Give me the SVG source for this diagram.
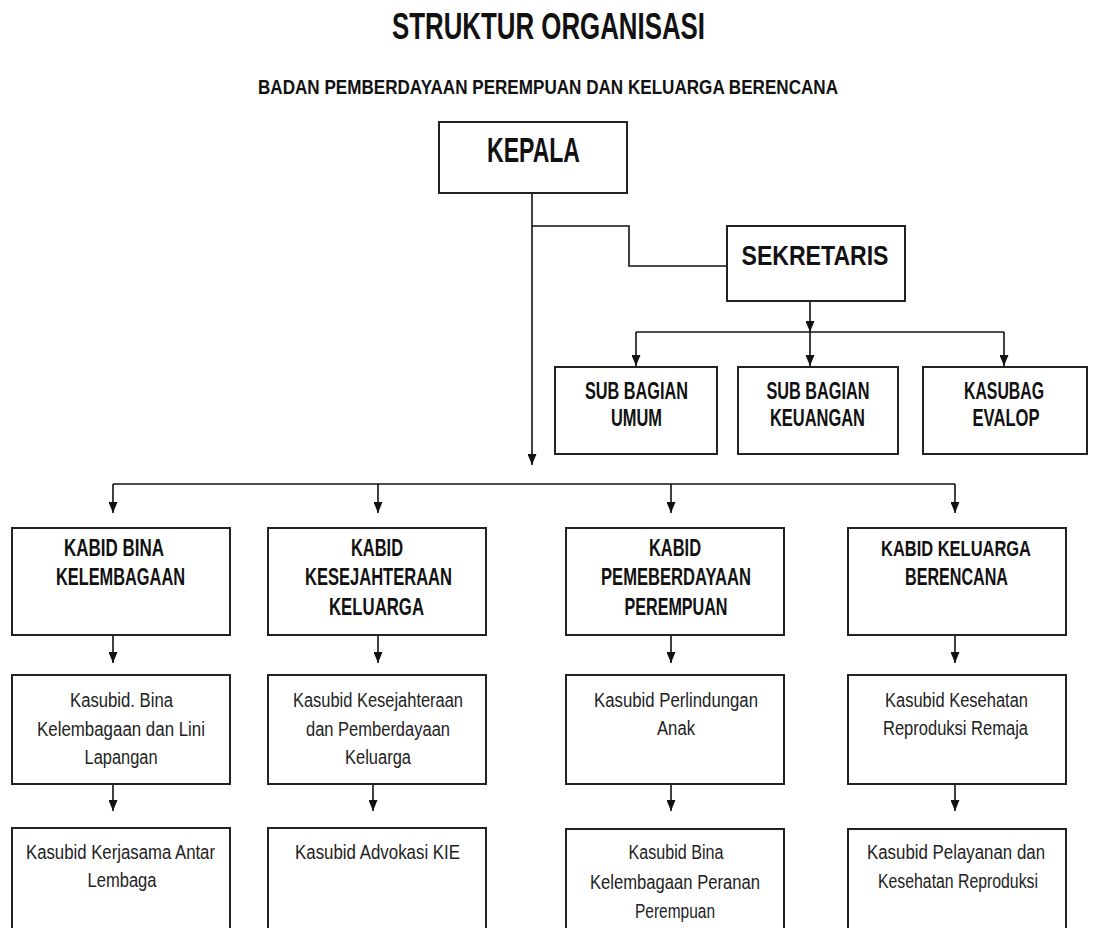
<svg xmlns="http://www.w3.org/2000/svg" width="1095" height="928" viewBox="0 0 1095 928">
<style>
.box{fill:#fff;stroke:#222;stroke-width:2}
.ln{fill:none;stroke:#111;stroke-width:1.6}
.t{font-family:"Liberation Sans",Arial,sans-serif;text-anchor:middle;fill:#111}
.b{font-weight:bold}
.h{font-size:24px}
.r{font-size:20px;fill:#222}
</style>
<defs>
<marker id="ah" markerUnits="userSpaceOnUse" markerWidth="11" markerHeight="9" refX="11" refY="4.5" orient="auto">
<path d="M0,0 L11,4.5 L0,9 z" fill="#111"/>
</marker>
</defs>
<rect width="1095" height="928" fill="#fff"/>
<g id="title">
<text class="t b" x="548.5" y="38.5" font-size="37" textLength="313" lengthAdjust="spacingAndGlyphs">STRUKTUR ORGANISASI</text>
<text class="t b" x="548" y="94" font-size="19.5" textLength="580" lengthAdjust="spacingAndGlyphs">BADAN PEMBERDAYAAN PEREMPUAN DAN KELUARGA BERENCANA</text>
</g>
<g id="connectors">
<path class="ln" d="M532,193 V465" marker-end="url(#ah)"/>
<path class="ln" d="M532,226 H629 V266 H727"/>
<path class="ln" d="M810,301 V332" marker-end="url(#ah)"/>
<path class="ln" d="M636,332 H1004"/>
<path class="ln" d="M636,332 V366" marker-end="url(#ah)"/>
<path class="ln" d="M810,332 V366" marker-end="url(#ah)"/>
<path class="ln" d="M1004,332 V366" marker-end="url(#ah)"/>
<path class="ln" d="M113,484 H955"/>
<path class="ln" d="M113,484 V513" marker-end="url(#ah)"/>
<path class="ln" d="M378,484 V513" marker-end="url(#ah)"/>
<path class="ln" d="M671,484 V513" marker-end="url(#ah)"/>
<path class="ln" d="M955,484 V513" marker-end="url(#ah)"/>
<path class="ln" d="M113,635 V663" marker-end="url(#ah)"/>
<path class="ln" d="M378,635 V663" marker-end="url(#ah)"/>
<path class="ln" d="M671,635 V663" marker-end="url(#ah)"/>
<path class="ln" d="M955,635 V663" marker-end="url(#ah)"/>
<path class="ln" d="M113,784 V811" marker-end="url(#ah)"/>
<path class="ln" d="M373,784 V811" marker-end="url(#ah)"/>
<path class="ln" d="M671,784 V811" marker-end="url(#ah)"/>
<path class="ln" d="M955,784 V811" marker-end="url(#ah)"/>
</g>
<g id="kepala">
<rect class="box" x="439" y="122" width="188" height="71"/>
<text class="t b" x="533.5" y="162" font-size="35" textLength="93" lengthAdjust="spacingAndGlyphs">KEPALA</text>
</g>
<g id="sekretaris">
<rect class="box" x="727" y="226" width="178" height="75"/>
<text class="t b" x="815" y="265" font-size="28" textLength="147" lengthAdjust="spacingAndGlyphs">SEKRETARIS</text>
</g>
<g id="sub-umum">
<rect class="box" x="555" y="367" width="162" height="87"/>
<text class="t b h" x="636.5" y="399" textLength="103" lengthAdjust="spacingAndGlyphs">SUB BAGIAN</text>
<text class="t b h" x="636.5" y="426" textLength="51" lengthAdjust="spacingAndGlyphs">UMUM</text>
</g>
<g id="sub-keuangan">
<rect class="box" x="738" y="367" width="160" height="87"/>
<text class="t b h" x="818" y="399" textLength="103" lengthAdjust="spacingAndGlyphs">SUB BAGIAN</text>
<text class="t b h" x="817.5" y="426" textLength="95" lengthAdjust="spacingAndGlyphs">KEUANGAN</text>
</g>
<g id="kasubag-evalop">
<rect class="box" x="923" y="367" width="164" height="87"/>
<text class="t b h" x="1004" y="399" textLength="80" lengthAdjust="spacingAndGlyphs">KASUBAG</text>
<text class="t b h" x="1006" y="426" textLength="67" lengthAdjust="spacingAndGlyphs">EVALOP</text>
</g>
<g id="kabid-bina">
<rect class="box" x="12" y="528" width="218" height="107"/>
<text class="t b h" x="114" y="556" textLength="100" lengthAdjust="spacingAndGlyphs">KABID BINA</text>
<text class="t b h" x="120.5" y="585" textLength="129" lengthAdjust="spacingAndGlyphs">KELEMBAGAAN</text>
</g>
<g id="kabid-kesejahteraan">
<rect class="box" x="268" y="528" width="218" height="107"/>
<text class="t b h" x="377" y="556" textLength="52" lengthAdjust="spacingAndGlyphs">KABID</text>
<text class="t b h" x="378.5" y="585" textLength="147" lengthAdjust="spacingAndGlyphs">KESEJAHTERAAN</text>
<text class="t b h" x="376.5" y="615" textLength="95" lengthAdjust="spacingAndGlyphs">KELUARGA</text>
</g>
<g id="kabid-pemberdayaan">
<rect class="box" x="566" y="528" width="218" height="107"/>
<text class="t b h" x="675" y="556" textLength="52" lengthAdjust="spacingAndGlyphs">KABID</text>
<text class="t b h" x="676" y="585" textLength="150" lengthAdjust="spacingAndGlyphs">PEMEBERDAYAAN</text>
<text class="t b h" x="676" y="615" textLength="103" lengthAdjust="spacingAndGlyphs">PEREMPUAN</text>
</g>
<g id="kabid-kb">
<rect class="box" x="848" y="528" width="218" height="107"/>
<text class="t b" x="956" y="556" font-size="22.5" textLength="150" lengthAdjust="spacingAndGlyphs">KABID KELUARGA</text>
<text class="t b h" x="956.5" y="585" textLength="103" lengthAdjust="spacingAndGlyphs">BERENCANA</text>
</g>
<g id="kasubid-bina-lini">
<rect class="box" x="12" y="675" width="218" height="109"/>
<text class="t r" x="121.5" y="707" textLength="103" lengthAdjust="spacingAndGlyphs">Kasubid. Bina</text>
<text class="t r" x="121" y="736" textLength="168" lengthAdjust="spacingAndGlyphs">Kelembagaan  dan Lini</text>
<text class="t r" x="121" y="764" textLength="73" lengthAdjust="spacingAndGlyphs">Lapangan</text>
</g>
<g id="kasubid-kesejahteraan">
<rect class="box" x="268" y="675" width="218" height="109"/>
<text class="t r" x="378" y="707" textLength="170" lengthAdjust="spacingAndGlyphs">Kasubid Kesejahteraan</text>
<text class="t r" x="378" y="736" textLength="144" lengthAdjust="spacingAndGlyphs">dan Pemberdayaan</text>
<text class="t r" x="378" y="764" textLength="66" lengthAdjust="spacingAndGlyphs">Keluarga</text>
</g>
<g id="kasubid-perlindungan">
<rect class="box" x="566" y="675" width="218" height="109"/>
<text class="t r" x="676" y="707" textLength="164" lengthAdjust="spacingAndGlyphs">Kasubid Perlindungan</text>
<text class="t r" x="676" y="735" textLength="38" lengthAdjust="spacingAndGlyphs">Anak</text>
</g>
<g id="kasubid-krr">
<rect class="box" x="848" y="675" width="218" height="109"/>
<text class="t r" x="956.5" y="707" textLength="143" lengthAdjust="spacingAndGlyphs">Kasubid Kesehatan</text>
<text class="t r" x="955.5" y="735" textLength="145" lengthAdjust="spacingAndGlyphs">Reproduksi Remaja</text>
</g>
<g id="kasubid-kerjasama">
<rect class="box" x="12" y="828" width="218" height="120"/>
<text class="t r" x="120.5" y="859" textLength="189" lengthAdjust="spacingAndGlyphs">Kasubid Kerjasama  Antar</text>
<text class="t r" x="122" y="887" textLength="69" lengthAdjust="spacingAndGlyphs">Lembaga</text>
</g>
<g id="kasubid-advokasi">
<rect class="box" x="268" y="828" width="218" height="120"/>
<text class="t r" x="377.5" y="859" textLength="165" lengthAdjust="spacingAndGlyphs">Kasubid Advokasi KIE</text>
</g>
<g id="kasubid-peranan">
<rect class="box" x="566" y="829" width="218" height="120"/>
<text class="t r" x="676" y="859" textLength="95" lengthAdjust="spacingAndGlyphs">Kasubid Bina</text>
<text class="t r" x="675" y="889" textLength="170" lengthAdjust="spacingAndGlyphs">Kelembagaan  Peranan</text>
<text class="t r" x="675" y="918" textLength="80" lengthAdjust="spacingAndGlyphs">Perempuan</text>
</g>
<g id="kasubid-pelayanan">
<rect class="box" x="848" y="829" width="218" height="120"/>
<text class="t r" x="956" y="859" textLength="178" lengthAdjust="spacingAndGlyphs">Kasubid Pelayanan  dan</text>
<text class="t r" x="958" y="888" textLength="160" lengthAdjust="spacingAndGlyphs">Kesehatan  Reproduksi</text>
</g>
</svg>
